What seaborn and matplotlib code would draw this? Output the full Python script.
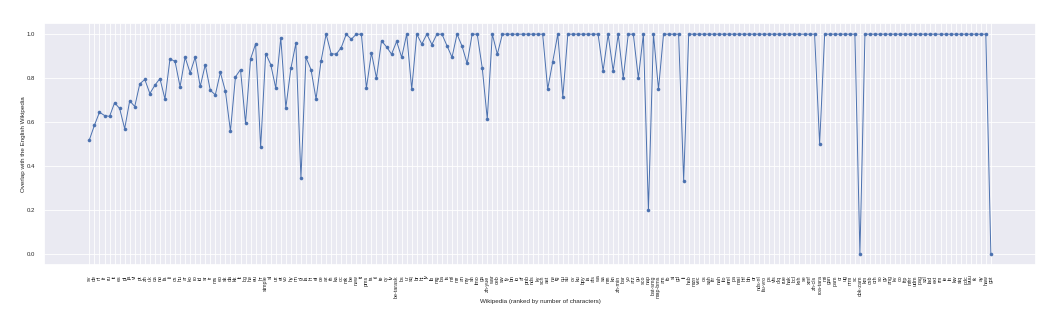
import matplotlib
matplotlib.use("Agg")
import matplotlib.pyplot as plt
import seaborn as sns
import pandas as pd

wikis = ["sv", "de", "nl", "fr", "ru", "it", "es", "pl", "ja", "vi",
         "pt", "zh", "uk", "ca", "no", "fa", "fi", "cs", "hu", "ar",
         "ko", "ro", "id", "sr", "tr", "ms", "eo", "sk", "da", "kk",
         "lt", "bg", "he", "eu", "hr", "simple", "sl", "uz", "et", "vo",
         "hy", "nn", "gl", "la", "hi", "el", "ce", "az", "th", "ka",
         "oc", "mk", "be", "new", "tt", "pms", "ta", "tl", "te", "cy",
         "lv", "be-tarask", "bs", "ur", "sq", "br", "ht", "jv", "lb", "mg",
         "ba", "is", "ml", "mr", "an", "my", "sh", "lmo", "ga", "zh-yue",
         "war", "ceb", "sw", "fy", "bn", "io", "af", "pnb", "nds", "ky",
         "scn", "ast", "ne", "tg", "qu", "su", "cv", "ku", "bpy", "ia",
         "als", "wa", "sa", "mn", "kn", "zh-min", "bar", "yo", "arz", "gu",
         "sco", "nap", "bat-smg", "map-bms", "am", "fo", "si", "gd", "li", "hsb",
         "mzn", "vec", "os", "sah", "frr", "nah", "ilo", "eml", "pa", "mai",
         "hif", "bh", "or", "nds-nl", "fiu-vro", "ps", "vls", "diq", "rue", "hak",
         "bcl", "ksh", "se", "xmf", "zh-cls", "roa-tara", "mi", "gan", "pam", "cr",
         "ug", "nrm", "sc", "cbk-zam", "km", "csb", "crh", "so", "gv", "ang",
         "kv", "co", "frp", "mhr", "udm", "pag", "szl", "lad", "ext", "rm",
         "ie", "ln", "kw", "stq", "pdc", "wuu", "tk", "ay", "haw", "got"]

overlap = [0.52, 0.586, 0.645, 0.63, 0.626, 0.688, 0.662, 0.57, 0.697, 0.671,
           0.774, 0.794, 0.73, 0.768, 0.798, 0.705, 0.888, 0.876, 0.761, 0.895,
           0.824, 0.895, 0.762, 0.861, 0.745, 0.724, 0.826, 0.741, 0.559, 0.806,
           0.839, 0.595, 0.888, 0.956, 0.485, 0.912, 0.862, 0.755, 0.983, 0.665,
           0.844, 0.959, 0.345, 0.894, 0.839, 0.705, 0.879, 1.0, 0.911, 0.909,
           0.939, 1.0, 0.977, 1.0, 1.0, 0.755, 0.915, 0.8, 0.970, 0.942,
           0.909, 0.967, 0.895, 1.0, 0.75, 1.0, 0.955, 1.0, 0.953, 1.0,
           1.0, 0.948, 0.895, 1.0, 0.945, 0.867, 1.0, 1.0, 0.847, 0.615,
           1.0, 0.909, 1.0, 1.0, 1.0, 1.0, 1.0, 1.0, 1.0, 1.0,
           1.0, 0.75, 0.875, 1.0, 0.714, 1.0, 1.0, 1.0, 1.0, 1.0,
           1.0, 1.0, 0.833, 1.0, 0.833, 1.0, 0.8, 1.0, 1.0, 0.8,
           1.0, 0.2, 1.0, 0.75, 1.0, 1.0, 1.0, 1.0, 0.333, 1.0,
           1.0, 1.0, 1.0, 1.0, 1.0, 1.0, 1.0, 1.0, 1.0, 1.0,
           1.0, 1.0, 1.0, 1.0, 1.0, 1.0, 1.0, 1.0, 1.0, 1.0,
           1.0, 1.0, 1.0, 1.0, 1.0, 0.5, 1.0, 1.0, 1.0, 1.0,
           1.0, 1.0, 1.0, 0.0, 1.0, 1.0, 1.0, 1.0, 1.0, 1.0,
           1.0, 1.0, 1.0, 1.0, 1.0, 1.0, 1.0, 1.0, 1.0, 1.0,
           1.0, 1.0, 1.0, 1.0, 1.0, 1.0, 1.0, 1.0, 1.0, 0.0]

sns.set_theme(style="darkgrid")
plt.rcParams["font.family"] = ["Liberation Sans", "DejaVu Sans"]

df = pd.DataFrame({"wiki": wikis, "overlap": overlap})

fig = plt.figure(figsize=(10.56, 3.22), dpi=100)
ax = fig.add_axes([0.042, 0.177, 0.939, 0.751])
sns.lineplot(data=df, x="wiki", y="overlap", sort=False, marker="o",
             markersize=2.6, markeredgewidth=0, linewidth=0.7,
             color="#4c72b0", ax=ax)
ax.set_xlabel("Wikipedia (ranked by number of characters)", fontsize=4.5, labelpad=0.5)
ax.set_ylabel("Overlap with the English Wikipedia", fontsize=4.5, labelpad=0.5)
ax.tick_params(axis="x", labelsize=3.9, rotation=90, pad=1.5)
ax.tick_params(axis="y", labelsize=4.3, pad=1.0)
ax.grid(True, color="white", linewidth=0.6)
ax.set_xticks(range(len(wikis)))
ax.set_xticklabels(wikis)
ax.set_yticks([0.0, 0.2, 0.4, 0.6, 0.8, 1.0])

fig.savefig("out.png", dpi=100)
